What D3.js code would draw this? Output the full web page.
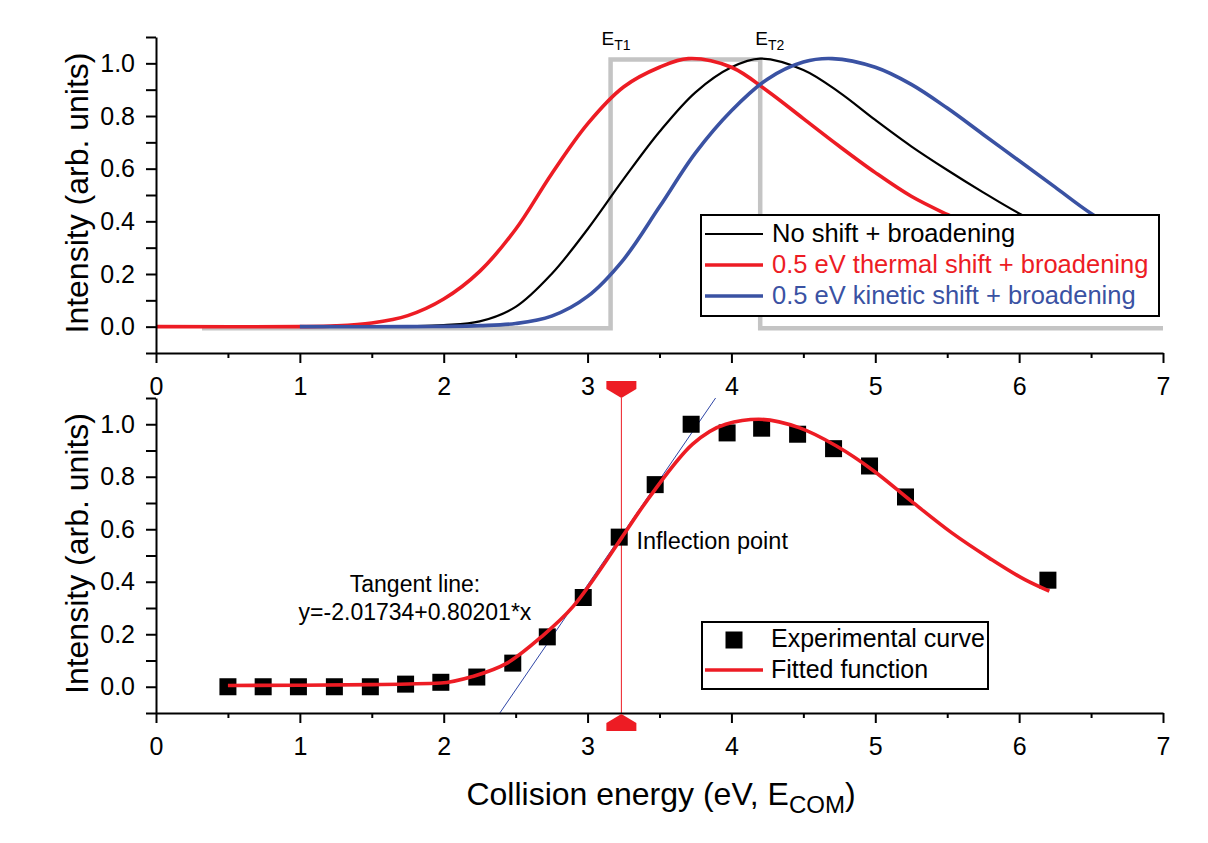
<!DOCTYPE html>
<html><head><meta charset="utf-8">
<script src="https://cdn.jsdelivr.net/npm/d3@7"></script>
<style>
html,body{margin:0;padding:0;background:#fff;}
svg{display:block;font-family:"Liberation Sans",Arial,Helvetica,sans-serif;}
</style></head><body>
<svg id="chart" width="1208" height="843"></svg>
<script>
// ---------- data ----------
const xTickValues = [0, 1, 2, 3, 4, 5, 6, 7];
const xMinorTickValues = [0.5, 1.5, 2.5, 3.5, 4.5, 5.5, 6.5];
const yTickValues = [0.0, 0.2, 0.4, 0.6, 0.8, 1.0];
const yMinorTickValues = [-0.1, 0.1, 0.3, 0.5, 0.7, 0.9, 1.1];

const stepX = [0.32, 3.16, 3.16, 4.20, 4.20, 7.00];
const stepY = [-0.006, -0.006, 1.015, 1.015, -0.006, -0.006];
const thresholdNames = ["T1", "T2"];
const thresholdX = [3.16, 4.20];

const noShiftX = [1.00, 1.50, 1.75, 2.00, 2.25, 2.50, 2.75, 3.00, 3.25, 3.50, 3.75, 4.00, 4.20, 4.50, 4.75, 5.00, 5.25, 5.50, 5.75, 6.00, 6.40];
const noShiftY = [0.000, 0.000, 0.002, 0.006, 0.020, 0.075, 0.200, 0.370, 0.560, 0.740, 0.890, 0.985, 1.018, 0.975, 0.890, 0.785, 0.685, 0.595, 0.510, 0.430, 0.320];

const thermalX = [0.00, 1.00, 1.25, 1.50, 1.75, 2.00, 2.25, 2.50, 2.75, 3.00, 3.25, 3.50, 3.70, 4.00, 4.25, 4.50, 4.75, 5.00, 5.25, 5.50, 5.90];
const thermalY = [0.000, 0.000, 0.003, 0.014, 0.042, 0.105, 0.210, 0.370, 0.580, 0.770, 0.910, 0.985, 1.018, 0.985, 0.895, 0.790, 0.685, 0.585, 0.495, 0.426, 0.330];

const kineticX = [1.00, 1.75, 2.00, 2.25, 2.50, 2.75, 3.00, 3.25, 3.50, 3.75, 4.00, 4.25, 4.50, 4.70, 5.00, 5.25, 5.50, 5.75, 6.00, 6.25, 6.50, 6.90];
const kineticY = [0.000, 0.000, 0.001, 0.004, 0.012, 0.040, 0.115, 0.255, 0.455, 0.660, 0.820, 0.940, 1.005, 1.018, 0.985, 0.920, 0.830, 0.730, 0.630, 0.530, 0.430, 0.300];

const topLegendLabels = ["No shift + broadening", "0.5 eV thermal shift + broadening", "0.5 eV kinetic shift + broadening"];

const expX = [0.50, 0.745, 0.99, 1.24, 1.49, 1.735, 1.98, 2.23, 2.48, 2.72, 2.97, 3.22, 3.47, 3.72, 3.97, 4.21, 4.46, 4.71, 4.96, 5.21, 6.20];
const expY = [0.000, 0.000, 0.000, 0.000, 0.000, 0.010, 0.017, 0.037, 0.090, 0.190, 0.340, 0.570, 0.770, 1.000, 0.967, 0.985, 0.962, 0.907, 0.841, 0.723, 0.406];

const fitX = [0.50, 1.00, 1.50, 1.98, 2.20, 2.44, 2.67, 2.90, 3.13, 3.24, 3.36, 3.47, 3.73, 3.96, 4.19, 4.47, 4.73, 4.99, 5.25, 5.53, 5.79, 6.04, 6.21];
const fitY = [0.005, 0.006, 0.008, 0.014, 0.039, 0.090, 0.186, 0.306, 0.480, 0.570, 0.668, 0.752, 0.924, 1.000, 1.019, 0.987, 0.917, 0.822, 0.707, 0.587, 0.491, 0.408, 0.364];

const tangentX = [2.39, 3.89];
const tangentY = [-0.1, 1.1];
const inflectionX = 3.235;

const bottomLegendLabels = ["Experimental curve", "Fitted function"];
const tangentText = ["Tangent line:", "y=-2.01734+0.80201*x"];

// ---------- styles ----------
const RED = "#ed1c24", BLUE = "#3a52a3", GRAY = "#c4c4c4";

const svg = d3.select("#chart");
const x = d3.scaleLinear().domain([0, 7]).range([156, 1163]);
const yTop = d3.scaleLinear().domain([-0.1, 1.1]).range([353, 37]);
const yBot = d3.scaleLinear().domain([-0.1, 1.1]).range([713, 398]);

function styleAxis(g) {
  g.attr("font-family", null).attr("font-size", null);
  g.selectAll(".domain").attr("stroke", "#000").attr("stroke-width", 2);
  g.selectAll(".tick line").attr("stroke", "#000").attr("stroke-width", 2);
  g.selectAll(".tick text").attr("fill", "#000").style("font-size", "25px");
}

function drawAxes(y) {
  const y0 = y.range()[0];
  const gx = svg.append("g").attr("transform", `translate(0,${y0})`)
    .call(d3.axisBottom(x).tickValues(xTickValues).tickSize(10).tickSizeOuter(0).tickPadding(14).tickFormat(d3.format("d")));
  styleAxis(gx);
  const gxm = svg.append("g").attr("transform", `translate(0,${y0})`)
    .call(d3.axisBottom(x).tickValues(xMinorTickValues).tickSize(5).tickSizeOuter(0).tickFormat(""));
  styleAxis(gxm); gxm.select(".domain").remove();
  const gy = svg.append("g").attr("transform", `translate(${x.range()[0]},0)`)
    .call(d3.axisLeft(y).tickValues(yTickValues).tickSize(10).tickSizeOuter(0).tickPadding(11).tickFormat(d3.format(".1f")));
  styleAxis(gy);
  const gym = svg.append("g").attr("transform", `translate(${x.range()[0]},0)`)
    .call(d3.axisLeft(y).tickValues(yMinorTickValues).tickSize(10).tickSizeOuter(0).tickFormat(""));
  styleAxis(gym); gym.select(".domain").remove();
  const cy = (y.range()[0] + y.range()[1]) / 2;
  svg.append("text").attr("transform", `translate(88,${cy - 2}) rotate(-90)`)
    .attr("text-anchor", "middle").style("font-size", "32px").attr("fill", "#000")
    .text("Intensity (arb. units)");
}

const zip = (xs, ys) => xs.map((v, i) => [v, ys[i]]);

// ---------- top panel ----------
const lineTop = d3.line().x(d => x(d[0])).y(d => yTop(d[1])).curve(d3.curveCatmullRom.alpha(0.5));
const lineStep = d3.line().x(d => x(d[0])).y(d => yTop(d[1]));

svg.append("path").datum(zip(stepX, stepY)).attr("d", lineStep)
  .attr("fill", "none").attr("stroke", GRAY).attr("stroke-width", 4.5);

svg.append("path").datum(zip(noShiftX, noShiftY)).attr("d", lineTop)
  .attr("fill", "none").attr("stroke", "#000").attr("stroke-width", 2.2);
svg.append("path").datum(zip(thermalX, thermalY)).attr("d", lineTop)
  .attr("fill", "none").attr("stroke", RED).attr("stroke-width", 3.6);
svg.append("path").datum(zip(kineticX, kineticY)).attr("d", lineTop)
  .attr("fill", "none").attr("stroke", BLUE).attr("stroke-width", 3.6);

thresholdNames.forEach((n, i) => {
  const t = svg.append("text").attr("x", x(thresholdX[i]) - (i === 0 ? 9 : 5)).attr("y", 45)
    .style("font-size", "19px").attr("fill", "#000");
  t.append("tspan").text("E");
  t.append("tspan").attr("dy", 5).style("font-size", "14px").text(n);
});

drawAxes(yTop);

// top legend
const lgT = svg.append("g");
lgT.append("rect").attr("x", 701).attr("y", 215).attr("width", 458).attr("height", 101)
  .attr("fill", "#fff").attr("stroke", "#000").attr("stroke-width", 2);
const topLegendColors = ["#000", RED, BLUE];
const topLegendWidths = [2, 3.6, 3.6];
topLegendLabels.forEach((lab, i) => {
  const by = 242 + i * 31;
  lgT.append("line").attr("x1", 705).attr("x2", 763).attr("y1", by - 8).attr("y2", by - 8)
    .attr("stroke", topLegendColors[i]).attr("stroke-width", topLegendWidths[i]);
  lgT.append("text").attr("x", 772).attr("y", by).style("font-size", "25.5px")
    .attr("fill", topLegendColors[i]).text(lab);
});

// ---------- bottom panel ----------
const lineBot = d3.line().x(d => x(d[0])).y(d => yBot(d[1])).curve(d3.curveMonotoneX);
const lineStraight = d3.line().x(d => x(d[0])).y(d => yBot(d[1]));

const ix = x(inflectionX);
svg.append("line").attr("x1", ix).attr("x2", ix).attr("y1", yBot.range()[1]).attr("y2", yBot.range()[0])
  .attr("stroke", RED).attr("stroke-width", 1);

svg.append("path").datum(zip(tangentX, tangentY)).attr("d", lineStraight)
  .attr("fill", "none").attr("stroke", "#2f46a6").attr("stroke-width", 1);

const sq = 17;
svg.append("g").selectAll("rect").data(zip(expX, expY)).join("rect")
  .attr("x", d => x(d[0]) - sq / 2).attr("y", d => yBot(d[1]) - sq / 2)
  .attr("width", sq).attr("height", sq).attr("fill", "#000");

svg.append("path").datum(zip(fitX, fitY)).attr("d", lineBot)
  .attr("fill", "none").attr("stroke", RED).attr("stroke-width", 3.6);

drawAxes(yBot);

const yt = yBot.range()[1], yb = yBot.range()[0];
svg.append("path").attr("fill", RED)
  .attr("d", `M${ix - 15},${yt - 17}H${ix + 15}V${yt - 9}L${ix},${yt}L${ix - 15},${yt - 9}Z`);
svg.append("path").attr("fill", RED)
  .attr("d", `M${ix - 15},${yb + 18}H${ix + 15}V${yb + 10}L${ix},${yb + 1}L${ix - 15},${yb + 10}Z`);

svg.append("text").attr("x", ix + 15).attr("y", 549).style("font-size", "23.5px").attr("fill", "#000")
  .text("Inflection point");

tangentText.forEach((t, i) => {
  svg.append("text").attr("x", 415).attr("y", 592 + i * 28).attr("text-anchor", "middle")
    .style("font-size", "23px").attr("fill", "#000").text(t);
});

const lgB = svg.append("g");
lgB.append("rect").attr("x", 702).attr("y", 622).attr("width", 286).attr("height", 67)
  .attr("fill", "#fff").attr("stroke", "#000").attr("stroke-width", 2);
lgB.append("rect").attr("x", 734 - sq / 2).attr("y", 640 - sq / 2).attr("width", sq).attr("height", sq).attr("fill", "#000");
lgB.append("line").attr("x1", 705).attr("x2", 763).attr("y1", 670).attr("y2", 670)
  .attr("stroke", RED).attr("stroke-width", 3.6);
bottomLegendLabels.forEach((lab, i) => {
  lgB.append("text").attr("x", 771).attr("y", 647 + i * 31).style("font-size", "25px").attr("fill", "#000").text(lab);
});

const title = svg.append("text").attr("x", 661).attr("y", 805).attr("text-anchor", "middle")
  .style("font-size", "32px").attr("fill", "#000");
title.append("tspan").text("Collision energy (eV, E");
title.append("tspan").attr("dy", 8).style("font-size", "24px").text("COM");
title.append("tspan").attr("dy", -8).text(")");
</script>
</body></html>
